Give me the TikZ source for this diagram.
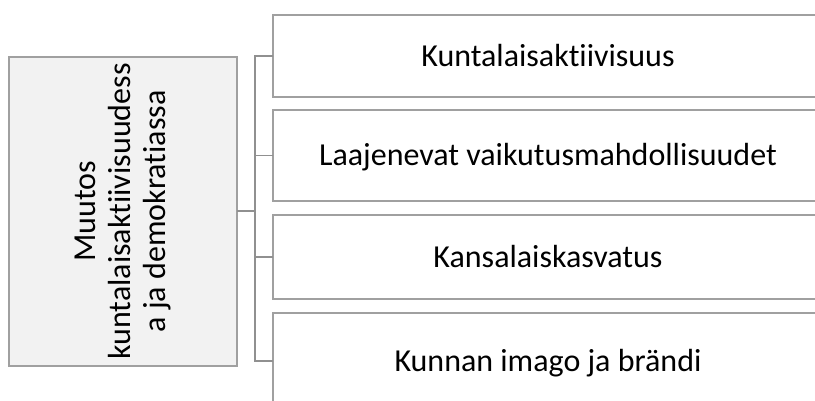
\documentclass[tikz,border=0pt]{standalone}
\usepackage{fontspec}
\setmainfont{Carlito}[Ligatures=NoCommon]
\definecolor{boxline}{HTML}{A0A0A0}
\definecolor{conline}{HTML}{909090}
\definecolor{leftfill}{HTML}{F2F2F2}
\begin{document}
\begin{tikzpicture}[x=1pt,y=-1pt,
  mainbox/.style={draw=boxline,fill=leftfill,line width=1.6pt,inner sep=0pt,outer sep=0pt,
    minimum width=228pt,minimum height=309pt},
  itembox/.style={inner sep=0pt,outer sep=0pt,text height=20.5pt,text depth=0pt,
    minimum width=550pt,font=\fontsize{32}{38}\selectfont},
  boxedge/.style={draw=boxline,line width=1.6pt},
  conn/.style={draw=conline,line width=1.6pt}]
\useasboundingbox (0,0) rectangle (815,401);
\clip (0,0) rectangle (815,401);
\node[mainbox] (L) at (123,211.5) {};
\node[rotate=90,align=center,font=\fontsize{32}{35}\selectfont] (Lt) at (123,211.5)
  {Muutos\\kuntalaisaktiivisuudess\\a ja demokratiassa};
\node[itembox,minimum height=82pt] (r1) at (548,56) {Kuntalaisaktiivisuus};
\node[itembox,minimum height=91pt] (r2) at (548,155.5) {Laajenevat vaikutusmahdollisuudet};
\node[itembox,minimum height=84pt] (r3) at (548,257) {Kansalaiskasvatus};
\node[itembox,minimum height=96pt] (r4) at (548,361) {Kunnan imago ja brändi};
\foreach \b in {r1,r2,r3,r4}
  \draw[boxedge] (\b.north east) -- (\b.north west) -- (\b.south west) -- (\b.south east);
\coordinate (j) at (255,211);
\draw[conn] (L.east |- j) -- (j);
\draw[conn] (r1.west) -- (r1.west -| j) -- (r4.west -| j) -- (r4.west);
\draw[conn] (r2.west) -- (r2.west -| j);
\draw[conn] (r3.west) -- (r3.west -| j);
\end{tikzpicture}
\end{document}
